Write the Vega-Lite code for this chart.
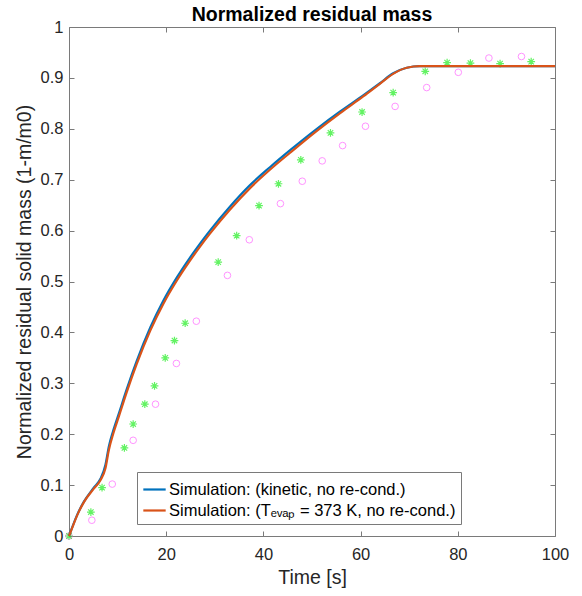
{
  "$schema": "https://vega.github.io/schema/vega-lite/v6.json",
  "width": 486,
  "height": 509,
  "autosize": {"type": "none"},
  "padding": {"left": 69, "top": 27, "right": 27, "bottom": 60},
  "background": "white",
  "title": {"text": "Normalized residual mass", "fontSize": 19.5, "fontWeight": "bold", "font": "Liberation Sans", "color": "#000000", "offset": -6, "anchor": "middle"},
  "config": {
    "view": {"stroke": null},
    "font": "Liberation Sans",
    "axis": {"grid": false, "domainColor": "#7a7a7a", "tickColor": "#7a7a7a", "labelColor": "#262626", "titleColor": "#262626", "labelFont": "Liberation Sans", "titleFont": "Liberation Sans", "labelFontSize": 16.5, "titleFontSize": 19.5, "titleFontWeight": "normal", "tickSize": -5, "domainWidth": 1, "labelFlush": false}
  },
  "datasets": {
    "sim": [
      {"t": 0, "m": 0, "series": "Simulation: (kinetic, no re-cond.)"},
      {"t": 0.5, "m": 0.013, "series": "Simulation: (kinetic, no re-cond.)"},
      {"t": 1.7, "m": 0.042, "series": "Simulation: (kinetic, no re-cond.)"},
      {"t": 3.1, "m": 0.068, "series": "Simulation: (kinetic, no re-cond.)"},
      {"t": 5.1, "m": 0.095, "series": "Simulation: (kinetic, no re-cond.)"},
      {"t": 6.5, "m": 0.113, "series": "Simulation: (kinetic, no re-cond.)"},
      {"t": 7.5, "m": 0.14, "series": "Simulation: (kinetic, no re-cond.)"},
      {"t": 8.2, "m": 0.176, "series": "Simulation: (kinetic, no re-cond.)"},
      {"t": 9.1, "m": 0.207, "series": "Simulation: (kinetic, no re-cond.)"},
      {"t": 10.3, "m": 0.242, "series": "Simulation: (kinetic, no re-cond.)"},
      {"t": 11.9, "m": 0.289, "series": "Simulation: (kinetic, no re-cond.)"},
      {"t": 13.9, "m": 0.343, "series": "Simulation: (kinetic, no re-cond.)"},
      {"t": 16.7, "m": 0.409, "series": "Simulation: (kinetic, no re-cond.)"},
      {"t": 19.4, "m": 0.462, "series": "Simulation: (kinetic, no re-cond.)"},
      {"t": 22.2, "m": 0.508, "series": "Simulation: (kinetic, no re-cond.)"},
      {"t": 24.9, "m": 0.547, "series": "Simulation: (kinetic, no re-cond.)"},
      {"t": 27.0, "m": 0.575, "series": "Simulation: (kinetic, no re-cond.)"},
      {"t": 29.0, "m": 0.6, "series": "Simulation: (kinetic, no re-cond.)"},
      {"t": 33.1, "m": 0.647, "series": "Simulation: (kinetic, no re-cond.)"},
      {"t": 37.2, "m": 0.689, "series": "Simulation: (kinetic, no re-cond.)"},
      {"t": 41.4, "m": 0.725, "series": "Simulation: (kinetic, no re-cond.)"},
      {"t": 45.5, "m": 0.758, "series": "Simulation: (kinetic, no re-cond.)"},
      {"t": 51.0, "m": 0.8, "series": "Simulation: (kinetic, no re-cond.)"},
      {"t": 55.8, "m": 0.834, "series": "Simulation: (kinetic, no re-cond.)"},
      {"t": 60.6, "m": 0.866, "series": "Simulation: (kinetic, no re-cond.)"},
      {"t": 63.9, "m": 0.889, "series": "Simulation: (kinetic, no re-cond.)"},
      {"t": 66.7, "m": 0.909, "series": "Simulation: (kinetic, no re-cond.)"},
      {"t": 69.5, "m": 0.92, "series": "Simulation: (kinetic, no re-cond.)"},
      {"t": 72.2, "m": 0.923, "series": "Simulation: (kinetic, no re-cond.)"},
      {"t": 100, "m": 0.923, "series": "Simulation: (kinetic, no re-cond.)"},
      {"t": 0, "m": 0, "series": "Simulation: (Tₑᵥₐₚ = 373 K, no re-cond.)"},
      {"t": 0.5, "m": 0.012, "series": "Simulation: (Tₑᵥₐₚ = 373 K, no re-cond.)"},
      {"t": 1.7, "m": 0.041, "series": "Simulation: (Tₑᵥₐₚ = 373 K, no re-cond.)"},
      {"t": 3.1, "m": 0.067, "series": "Simulation: (Tₑᵥₐₚ = 373 K, no re-cond.)"},
      {"t": 5.1, "m": 0.093, "series": "Simulation: (Tₑᵥₐₚ = 373 K, no re-cond.)"},
      {"t": 6.5, "m": 0.11, "series": "Simulation: (Tₑᵥₐₚ = 373 K, no re-cond.)"},
      {"t": 7.5, "m": 0.133, "series": "Simulation: (Tₑᵥₐₚ = 373 K, no re-cond.)"},
      {"t": 8.2, "m": 0.169, "series": "Simulation: (Tₑᵥₐₚ = 373 K, no re-cond.)"},
      {"t": 9.1, "m": 0.201, "series": "Simulation: (Tₑᵥₐₚ = 373 K, no re-cond.)"},
      {"t": 10.3, "m": 0.236, "series": "Simulation: (Tₑᵥₐₚ = 373 K, no re-cond.)"},
      {"t": 11.9, "m": 0.283, "series": "Simulation: (Tₑᵥₐₚ = 373 K, no re-cond.)"},
      {"t": 13.9, "m": 0.337, "series": "Simulation: (Tₑᵥₐₚ = 373 K, no re-cond.)"},
      {"t": 16.7, "m": 0.403, "series": "Simulation: (Tₑᵥₐₚ = 373 K, no re-cond.)"},
      {"t": 19.4, "m": 0.456, "series": "Simulation: (Tₑᵥₐₚ = 373 K, no re-cond.)"},
      {"t": 22.2, "m": 0.502, "series": "Simulation: (Tₑᵥₐₚ = 373 K, no re-cond.)"},
      {"t": 24.9, "m": 0.541, "series": "Simulation: (Tₑᵥₐₚ = 373 K, no re-cond.)"},
      {"t": 27.0, "m": 0.569, "series": "Simulation: (Tₑᵥₐₚ = 373 K, no re-cond.)"},
      {"t": 29.0, "m": 0.594, "series": "Simulation: (Tₑᵥₐₚ = 373 K, no re-cond.)"},
      {"t": 33.1, "m": 0.641, "series": "Simulation: (Tₑᵥₐₚ = 373 K, no re-cond.)"},
      {"t": 37.2, "m": 0.683, "series": "Simulation: (Tₑᵥₐₚ = 373 K, no re-cond.)"},
      {"t": 41.4, "m": 0.72, "series": "Simulation: (Tₑᵥₐₚ = 373 K, no re-cond.)"},
      {"t": 45.5, "m": 0.753, "series": "Simulation: (Tₑᵥₐₚ = 373 K, no re-cond.)"},
      {"t": 51.0, "m": 0.796, "series": "Simulation: (Tₑᵥₐₚ = 373 K, no re-cond.)"},
      {"t": 55.8, "m": 0.831, "series": "Simulation: (Tₑᵥₐₚ = 373 K, no re-cond.)"},
      {"t": 60.6, "m": 0.864, "series": "Simulation: (Tₑᵥₐₚ = 373 K, no re-cond.)"},
      {"t": 63.9, "m": 0.888, "series": "Simulation: (Tₑᵥₐₚ = 373 K, no re-cond.)"},
      {"t": 66.7, "m": 0.908, "series": "Simulation: (Tₑᵥₐₚ = 373 K, no re-cond.)"},
      {"t": 69.5, "m": 0.92, "series": "Simulation: (Tₑᵥₐₚ = 373 K, no re-cond.)"},
      {"t": 72.2, "m": 0.923, "series": "Simulation: (Tₑᵥₐₚ = 373 K, no re-cond.)"},
      {"t": 100, "m": 0.923, "series": "Simulation: (Tₑᵥₐₚ = 373 K, no re-cond.)"}
    ],
    "stars": [
      {"t": 0, "m": 0}, {"t": 4.5, "m": 0.047}, {"t": 6.8, "m": 0.095}, {"t": 11.4, "m": 0.173},
      {"t": 13.2, "m": 0.22}, {"t": 15.6, "m": 0.259}, {"t": 17.6, "m": 0.295}, {"t": 19.8, "m": 0.35},
      {"t": 21.7, "m": 0.384}, {"t": 23.9, "m": 0.418}, {"t": 30.7, "m": 0.538}, {"t": 34.5, "m": 0.59},
      {"t": 39.1, "m": 0.649}, {"t": 43.1, "m": 0.692}, {"t": 47.7, "m": 0.739}, {"t": 53.8, "m": 0.792},
      {"t": 60.3, "m": 0.833}, {"t": 66.7, "m": 0.871}, {"t": 73.3, "m": 0.913}, {"t": 77.8, "m": 0.93},
      {"t": 82.6, "m": 0.929}, {"t": 88.7, "m": 0.928}, {"t": 95.1, "m": 0.932}
    ],
    "circles": [
      {"t": 0, "m": 0}, {"t": 4.7, "m": 0.031}, {"t": 8.9, "m": 0.102}, {"t": 13.2, "m": 0.188},
      {"t": 17.8, "m": 0.259}, {"t": 22.1, "m": 0.339}, {"t": 26.2, "m": 0.422}, {"t": 32.6, "m": 0.512},
      {"t": 37.1, "m": 0.582}, {"t": 43.5, "m": 0.653}, {"t": 48.0, "m": 0.697}, {"t": 52.1, "m": 0.737},
      {"t": 56.3, "m": 0.767}, {"t": 61.0, "m": 0.805}, {"t": 67.1, "m": 0.844}, {"t": 73.6, "m": 0.881},
      {"t": 80.1, "m": 0.911}, {"t": 86.4, "m": 0.939}, {"t": 93.1, "m": 0.942}
    ]
  },
  "layer": [
    {
      "data": {"name": "circles"},
      "mark": {"type": "point", "shape": "circle", "filled": false, "stroke": "#ff66ff", "strokeWidth": 1, "size": 44},
      "encoding": {
        "x": {"field": "t", "type": "quantitative", "scale": {"domain": [0, 100], "nice": false, "zero": false}, "axis": {"orient": "top", "labels": false, "title": null, "values": [0, 20, 40, 60, 80, 100]}},
        "y": {"field": "m", "type": "quantitative", "scale": {"domain": [0, 1], "nice": false}, "axis": {"orient": "right", "labels": false, "title": null, "values": [0, 0.1, 0.2, 0.3, 0.4, 0.5, 0.6, 0.7, 0.8, 0.9, 1]}}
      }
    },
    {
      "data": {"name": "stars"},
      "mark": {"type": "point", "shape": "M-1,0L1,0M0,-1L0,1M-0.7,-0.7L0.7,0.7M-0.7,0.7L0.7,-0.7", "filled": false, "stroke": "#22ee22", "strokeWidth": 1.2, "size": 60},
      "encoding": {
        "x": {"field": "t", "type": "quantitative", "axis": null},
        "y": {"field": "m", "type": "quantitative", "axis": null}
      }
    },
    {
      "data": {"name": "sim"},
      "transform": [{"filter": "datum.series == 'Simulation: (kinetic, no re-cond.)'"}],
      "mark": {"type": "line", "strokeWidth": 2.2, "interpolate": "monotone"},
      "encoding": {
        "x": {"field": "t", "type": "quantitative", "title": "Time [s]", "axis": {"orient": "bottom", "values": [0, 20, 40, 60, 80, 100], "labelPadding": 15, "titlePadding": 6}},
        "y": {"field": "m", "type": "quantitative", "title": "Normalized residual solid mass (1-m/m0)", "axis": {"orient": "left", "values": [0, 0.1, 0.2, 0.3, 0.4, 0.5, 0.6, 0.7, 0.8, 0.9, 1], "format": ".1~f", "labelPadding": 11, "titlePadding": 6}},
        "color": {
          "field": "series", "type": "nominal",
          "scale": {"domain": ["Simulation: (kinetic, no re-cond.)", "Simulation: (Tₑᵥₐₚ = 373 K, no re-cond.)"], "range": ["#0072BD", "#D95319"]},
          "legend": {"title": null, "orient": "none", "legendX": 68, "legendY": 445, "symbolType": "stroke", "symbolSize": 500, "symbolStrokeWidth": 2.2, "labelFontSize": 16.5, "labelFont": "Liberation Sans", "labelColor": "#000000", "strokeColor": "#7a7a7a", "fillColor": "white", "padding": 5, "rowPadding": 0, "labelOffset": 2, "labelLimit": 400}
        }
      }
    },
    {
      "data": {"name": "sim"},
      "transform": [{"filter": "datum.series != 'Simulation: (kinetic, no re-cond.)'"}],
      "mark": {"type": "line", "strokeWidth": 2.2, "interpolate": "monotone"},
      "encoding": {
        "x": {"field": "t", "type": "quantitative", "axis": null},
        "y": {"field": "m", "type": "quantitative", "axis": null},
        "color": {"field": "series", "type": "nominal"}
      }
    }
  ],
  "resolve": {"axis": {"x": "independent", "y": "independent"}}
}
